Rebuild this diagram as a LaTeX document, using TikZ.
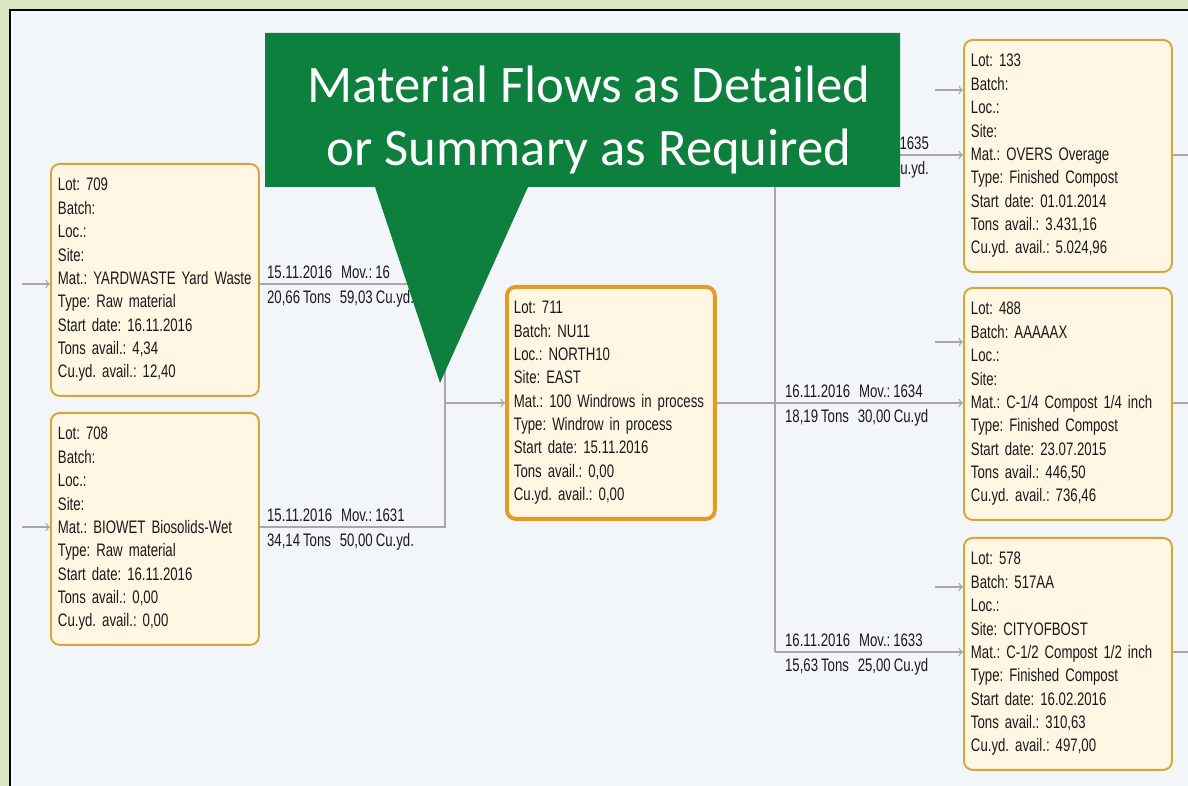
\documentclass[tikz,border=0pt]{standalone}
\usepackage{fontspec}
\setmainfont{Liberation Sans}
\newfontfamily\boxfont[FakeStretch=0.73,WordSpace=0.8]{Liberation Sans}
\newfontfamily\callfont{Carlito}
\usetikzlibrary{arrows}
\definecolor{framegreen}{RGB}{218,230,194}
\definecolor{panel}{RGB}{243,246,249}
\definecolor{callgreen}{RGB}{14,128,62}
\definecolor{lotfill}{RGB}{255,246,228}
\definecolor{lotedge}{RGB}{214,166,58}
\definecolor{lotorange}{RGB}{226,156,36}
\definecolor{flowgray}{RGB}{168,168,168}
\newcommand{\movgap}{\hspace{5pt}}

\begin{document}
\frenchspacing\hyphenpenalty=10000
\begin{tikzpicture}[x=0.02cm,y=-0.02cm,
  lot/.style={draw=lotedge,fill=lotfill,line width=1.1pt,rounded corners=5pt,
    anchor=north west,minimum width=4.16cm,minimum height=4.64cm,
    text width=3.88cm,inner xsep=0.14cm,align=left,
    font=\boxfont\fontsize{10.3}{13.3}\selectfont,text=black!90},
  lotmain/.style={lot,draw=lotorange,line width=2.2pt},
  flow/.style={draw=flowgray,line width=0.8pt},
  movtxt/.style={font=\boxfont\fontsize{10.3}{13.3}\selectfont,text=black!90,inner sep=1pt}]
\useasboundingbox (0,0) rectangle (1188,786);
% frame and panel
\fill[framegreen] (0,0) rectangle (1188,786);
\fill[panel] (10,10) rectangle (1188,786);
\draw[black,line width=1.6pt] (10,786) -- (10,10) -- (1188,10);

% lots
\node[lot] (lot709) at (50,163) {Lot: 709\\Batch:\\Loc.:\\Site:\\Mat.:~YARDWASTE~Yard~Waste\\Type: Raw material\\Start date: 16.11.2016\\Tons avail.: 4,34\\Cu.yd. avail.: 12,40};
\node[lot] (lot708) at (50,412) {Lot: 708\\Batch:\\Loc.:\\Site:\\Mat.:~BIOWET~Biosolids-Wet\\Type: Raw material\\Start date: 16.11.2016\\Tons avail.: 0,00\\Cu.yd. avail.: 0,00};
\node[lotmain] (lot711) at (505,285) {Lot: 711\\Batch: NU11\\Loc.: NORTH10\\Site: EAST\\Mat.:~100~Windrows~in~process\\Type: Windrow in process\\Start date: 15.11.2016\\Tons avail.: 0,00\\Cu.yd. avail.: 0,00};
\node[lot] (lot133) at (963,39) {Lot: 133\\Batch:\\Loc.:\\Site:\\Mat.: OVERS Overage\\Type: Finished Compost\\Start date: 01.01.2014\\Tons avail.: 3.431,16\\Cu.yd. avail.: 5.024,96};
\node[lot] (lot488) at (963,287) {Lot: 488\\Batch: AAAAAX\\Loc.:\\Site:\\Mat.:~C-1/4~Compost~1/4~inch\\Type: Finished Compost\\Start date: 23.07.2015\\Tons avail.: 446,50\\Cu.yd. avail.: 736,46};
\node[lot] (lot578) at (963,537) {Lot: 578\\Batch: 517AA\\Loc.:\\Site: CITYOFBOST\\Mat.:~C-1/2~Compost~1/2~inch\\Type: Finished Compost\\Start date: 16.02.2016\\Tons avail.: 310,63\\Cu.yd. avail.: 497,00};

% junctions
\coordinate (j1a) at (445,284);
\coordinate (j1b) at (445,527);
\coordinate (j1) at (445,403);
\coordinate (j2a) at (775,155);
\coordinate (j2) at (775,403);
\coordinate (j2c) at (775,652);

% incoming stubs
\coordinate (in709) at (22,284);
\coordinate (in708) at (22,527);
\coordinate (in133) at (935,90);
\coordinate (in488) at (935,342);
\coordinate (in578) at (935,587);
\draw[flow,->] (in709) -- (in709 -| lot709.west);
\draw[flow,->] (in708) -- (in708 -| lot708.west);
\draw[flow,->] (in133) -- (in133 -| lot133.west);
\draw[flow,->] (in488) -- (in488 -| lot488.west);
\draw[flow,->] (in578) -- (in578 -| lot578.west);

% outgoing stubs
\coordinate (out133) at (1188,155);
\coordinate (out488) at (1188,403);
\coordinate (out578) at (1188,652);
\draw[flow] (out133 -| lot133.east) -- (out133);
\draw[flow] (out488 -| lot488.east) -- (out488);
\draw[flow] (out578 -| lot578.east) -- (out578);

% flows into 711
\draw[flow] (lot709.east |- j1a) -- (j1a) -- (j1b) -- (lot708.east |- j1b);
\draw[flow,->] (j1) -- (j1 -| lot711.west);
% flows out of 711
\draw[flow] (lot711.east |- j2) -- (j2);
\draw[flow] (j2a) -- (j2c);
\draw[flow,->] (j2) -- (j2 -| lot488.west);
\draw[flow,->] (j2a) -- (j2a -| lot133.west);
\draw[flow,->] (j2c) -- (j2c -| lot578.west);

% movement labels
\node[movtxt,anchor=south west] (mov709) at (265,281) {15.11.2016\movgap Mov.: 16};
\node[movtxt,anchor=north west] (qty709) at (265,288) {20,66 Tons\movgap 59,03 Cu.yd.};
\node[movtxt,anchor=south west] (mov1631) at (265,524) {15.11.2016\movgap Mov.: 1631};
\node[movtxt,anchor=north west] (qty1631) at (265,531) {34,14 Tons\movgap 50,00 Cu.yd.};
\node[movtxt,anchor=south east] (mov1635) at (931,152) {1635};
\node[movtxt,anchor=north east] (qty1635) at (931,159) {Cu.yd.};
\node[movtxt,anchor=south west] (mov1634) at (783,400) {16.11.2016\movgap Mov.: 1634};
\node[movtxt,anchor=north west] (qty1634) at (783,407) {18,19 Tons\movgap 30,00 Cu.yd};
\node[movtxt,anchor=south west] (mov1633) at (783,649) {16.11.2016\movgap Mov.: 1633};
\node[movtxt,anchor=north west] (qty1633) at (783,656) {15,63 Tons\movgap 25,00 Cu.yd};

% callout
\fill[callgreen] (265,33) -- (900,33) -- (900,187) -- (528,187) -- (440,383) -- (375,187) -- (265,187) -- cycle;
\node[font=\callfont\fontsize{30}{35.7}\selectfont,text=white,align=center] (callout) at (589,120) {Material Flows as Detailed\\or Summary as Required};
\end{tikzpicture}
\end{document}
